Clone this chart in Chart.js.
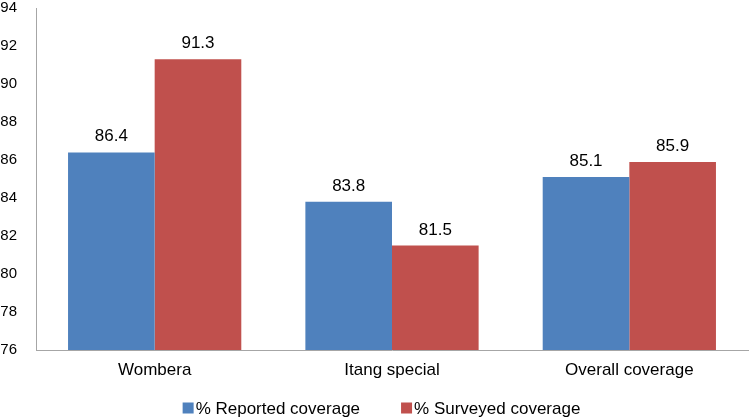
<!DOCTYPE html>
<html>
<head>
<meta charset="utf-8">
<script src="https://cdn.jsdelivr.net/npm/chart.js@4/dist/chart.umd.min.js"></script>
<style>
  html, body { margin: 0; padding: 0; background: #fff; }
  #wrap { width: 750px; height: 419px; }
</style>
</head>
<body>
<div id="wrap"><canvas id="myChart" width="750" height="419"></canvas></div>
<script>
// values
var sites = ["Wombera", "Itang special", "Overall coverage"];
var reported = [86.4, 83.8, 85.1];
var surveyed = [91.3, 81.5, 85.9];
var yTicks = [76, 78, 80, 82, 84, 86, 88, 90, 92, 94];

var FONT = "'Liberation Sans', Arial, sans-serif";

// writes the value above each bar
var barLabels = {
  id: "barLabels",
  afterDatasetsDraw: function(chart) {
    var c = chart.ctx;
    c.save();
    c.font = "17px " + FONT;
    c.fillStyle = "#000";
    c.textAlign = "center";
    c.textBaseline = "alphabetic";
    chart.data.datasets.forEach(function(ds, i) {
      chart.getDatasetMeta(i).data.forEach(function(bar, j) {
        c.fillText(ds.data[j].toFixed(1), bar.x, bar.y - 11);
      });
    });
    c.restore();
  }
};

// legend under the axis, small square then the name, like the original
var bottomLegend = {
  id: "bottomLegend",
  afterDraw: function(chart) {
    var c = chart.ctx;
    var box = 11, gap = 2, spacing = 41, y = 408;
    c.save();
    c.font = "17px " + FONT;
    var items = chart.data.datasets.map(function(ds) {
      return { text: ds.label, color: ds.backgroundColor, w: c.measureText(ds.label).width };
    });
    var total = 0;
    items.forEach(function(it, i) {
      total += box + gap + it.w + (i > 0 ? spacing : 0);
    });
    var x = chart.width / 2 + 6.5 - total / 2;
    c.textBaseline = "middle";
    c.textAlign = "left";
    items.forEach(function(it) {
      c.fillStyle = it.color;
      c.fillRect(x, y - box / 2, box, box);
      c.fillStyle = "#000";
      c.fillText(it.text, x + box + gap, y + 1);
      x += box + gap + it.w + spacing;
    });
    c.restore();
  }
};

var ctx = document.getElementById("myChart");
var myChart = new Chart(ctx, {
  type: "bar",
  data: {
    labels: sites,
    datasets: [
      {
        label: "% Reported coverage",
        data: reported,
        backgroundColor: "#4F81BD",
        barPercentage: 1,
        categoryPercentage: 0.73
      },
      {
        label: "% Surveyed coverage",
        data: surveyed,
        backgroundColor: "#C0504D",
        barPercentage: 1,
        categoryPercentage: 0.73
      }
    ]
  },
  plugins: [barLabels, bottomLegend],
  options: {
    responsive: false,
    animation: false,
    layout: { padding: { top: 8, right: 2, left: 0, bottom: 0 } },
    plugins: {
      tooltip: { enabled: false },
      legend: { display: false }
    },
    scales: {
      x: {
        afterFit: function(axis) {
          axis.height = 69;
          axis.paddingLeft = 0;
          axis.paddingRight = 0;
        },
        grid: { display: false, drawTicks: false },
        border: { color: "#A6A6A6", width: 1 },
        ticks: {
          color: "#000",
          padding: 10,
          font: { family: FONT, size: 17 }
        }
      },
      y: {
        min: 76,
        max: 94,
        afterBuildTicks: function(axis) {
          axis.ticks = yTicks.map(function(v) { return { value: v }; });
        },
        afterFit: function(axis) {
          axis.width = 36;
          axis.paddingTop = 0;
          axis.paddingBottom = 0;
        },
        grid: { display: false, drawTicks: false },
        border: { color: "#A6A6A6", width: 1 },
        ticks: {
          color: "#000",
          padding: 19,
          font: { family: FONT, size: 15 }
        }
      }
    }
  }
});
</script>
</body>
</html>
